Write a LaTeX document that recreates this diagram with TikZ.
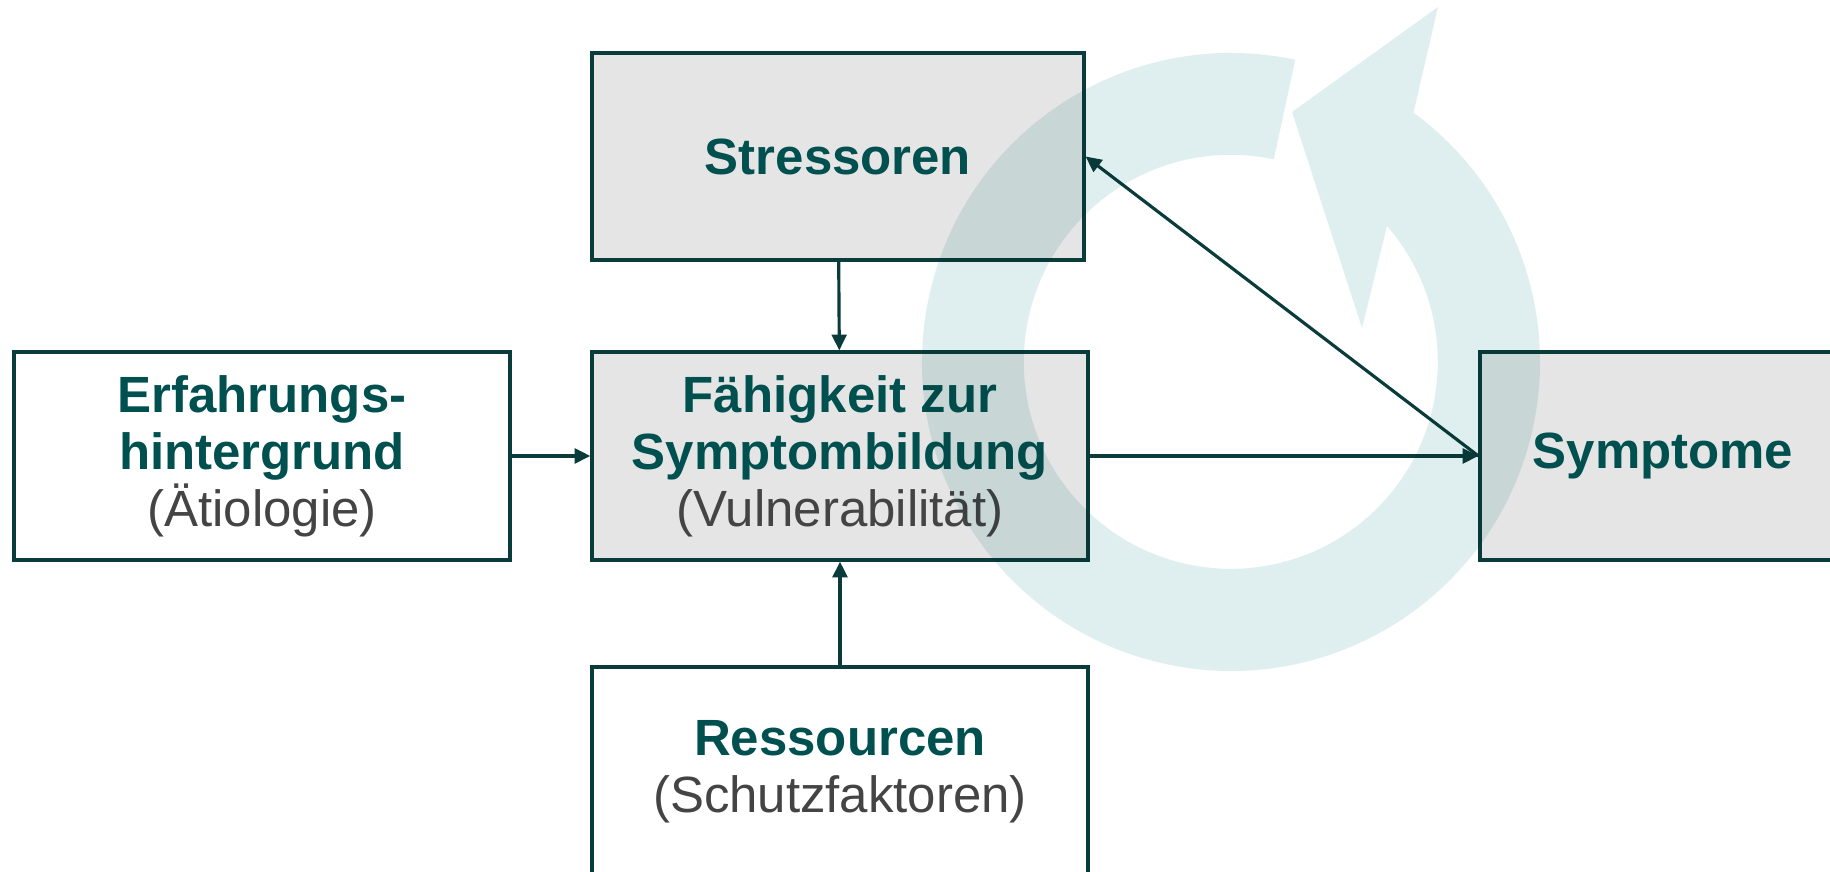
\documentclass[tikz,border=0pt]{standalone}
\usepackage{fontspec}
\setmainfont{Liberation Sans}
\usetikzlibrary{arrows.meta}

\definecolor{textteal}{RGB}{0,80,80}
\definecolor{linedark}{RGB}{10,60,60}
\definecolor{boxgrey}{RGB}{229,229,229}
\definecolor{subgrey}{RGB}{68,68,68}
\definecolor{ringteal}{RGB}{223,239,239}

\newcommand{\hd}[1]{\textbf{\color{textteal}#1}}
\newcommand{\subtxt}[1]{{\color{subgrey}#1}}

\tikzset{
  block/.style={draw=linedark, line width=0.9pt, fill=white, minimum height=2.08cm,
    align=center, inner sep=0pt, font=\fontsize{14.5}{16.2}\selectfont},
  greyblock/.style={block, fill=boxgrey},
  link/.style={draw=linedark, line width=0.9pt, -{Triangle[length=4.5pt, width=4.2pt]}},
}

\begin{document}
\begin{tikzpicture}

\clip (0,0) rectangle (18.30,8.72);

\def\ym{4.16}; % middle row
\def\xm{8.40}; % middle column

\def\xc{12.31}; % ring centre
\def\yc{5.10};
\def\ro{3.09}; % outer radius
\def\ri{2.07}; % inner radius

\node[block, minimum width=4.96cm] (erfahrung) at (2.62, \ym)
  {\hd{Erfahrungs-}\\\hd{hintergrund}\\\subtxt{(Ätiologie)}};
\node[greyblock, minimum width=4.96cm] (faehigkeit) at (\xm, \ym)
  {\hd{Fähigkeit zur}\\\hd{Symptombildung}\\\subtxt{(Vulnerabilität)}};
\node[greyblock, minimum width=4.92cm, minimum height=2.07cm] (stressoren) at (8.38, 7.155)
  {\hd{Stressoren}};
\node[greyblock, minimum width=3.66cm] (symptome) at (16.63, \ym) {\hd{Symptome}};
\node[block, minimum width=4.96cm, minimum height=2.10cm] (ressourcen) at (\xm, 1.00)
  {\hd{Ressourcen}\\\subtxt{(Schutzfaktoren)}};

\draw[link] (erfahrung) -- (faehigkeit);
\draw[link] (stressoren) -- (faehigkeit);
\draw[link] (ressourcen) -- (faehigkeit);
\draw[link] (faehigkeit) -- (symptome);
\draw[link] (symptome.west) -- (stressoren.east);

% circular arrow
\begin{scope}[blend mode=multiply]
\fill[ringteal] (\xc, \yc) ++(78:\ro) arc[start angle=78, end angle=413.8, radius=\ro]
  -- (14.38, 8.65) -- (12.92, 7.60) -- (13.62, 5.44) -- (13.87, 6.46)
  arc[start angle=401, end angle=78, radius=\ri] -- cycle;
\end{scope}

\end{tikzpicture}
\end{document}
